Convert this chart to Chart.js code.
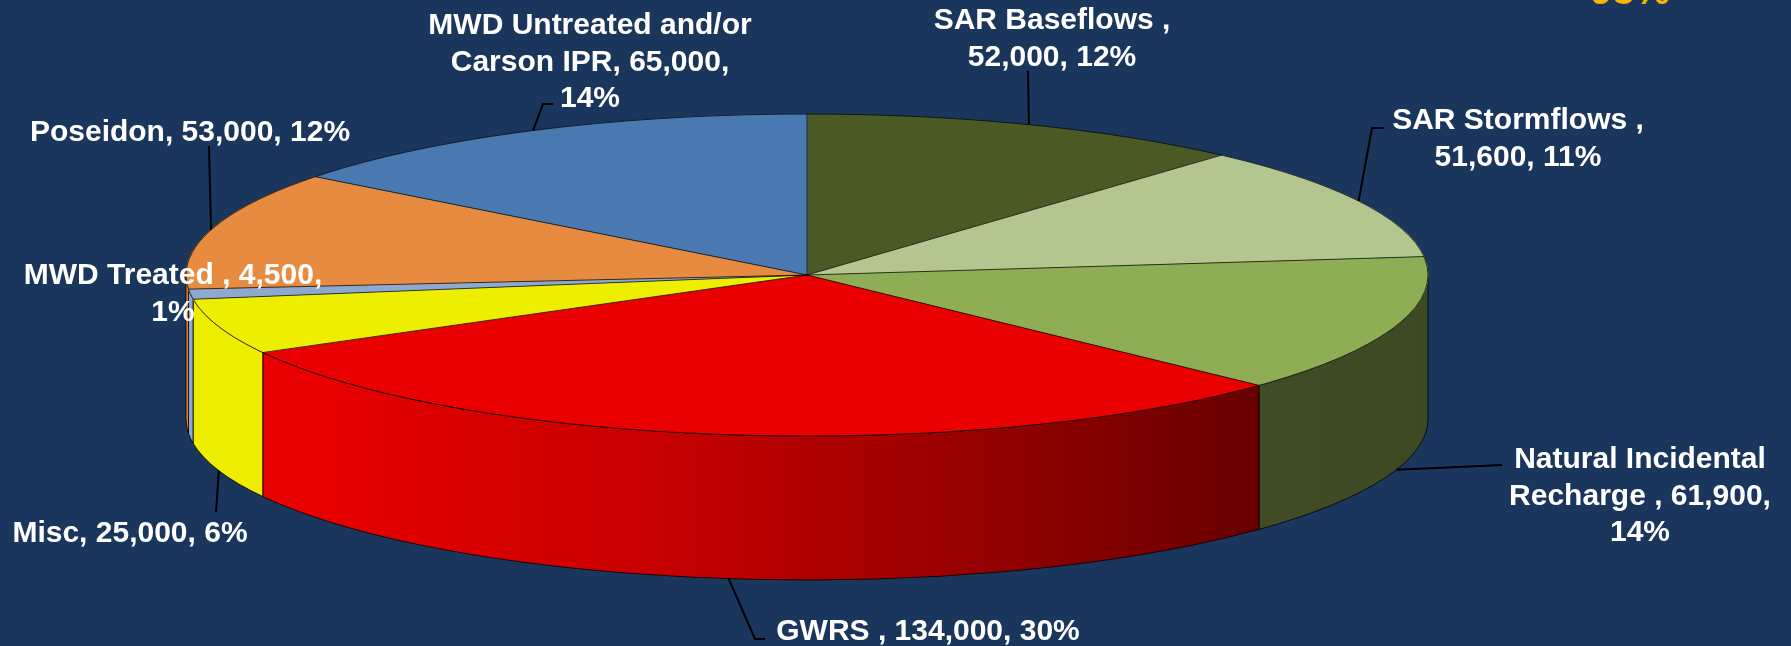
<!DOCTYPE html>
<html>
<head>
    <script src="https://cdn.jsdelivr.net/npm/chart.js@4.4.0/dist/chart.umd.min.js"></script>
    <style>
        body { margin: 0; background: #1A365D; }
        #wrap { width: 1791px; height: 646px; position: relative; }
    </style>
</head>
<body>
    <div id="wrap"><canvas id="grafico"></canvas></div>

    <script>
        // data, clockwise from 12 o'clock
        const categories = ['SAR Baseflows ', 'SAR Stormflows ', 'Natural Incidental Recharge ', 'GWRS ', 'Misc', 'MWD Treated ', 'Poseidon', 'MWD Untreated and/or Carson IPR'];
        const values = [52000, 51600, 61900, 134000, 25000, 4500, 53000, 65000];
        const percents = [12, 11, 14, 30, 6, 1, 12, 14];
        const colors = ['#4B5A25', '#B4C68F', '#8FAD54', '#EA0000', '#EEEE00', '#8EA9CF', '#E68B40', '#4A78B0'];
        const cornerText = '98%';

        // geometry of the tilted pie (top face ellipse + wall depth)
        const CX = 807, CY = 275, RX = 621, RY = 161, DEPTH = 144;
        const BG = '#1A365D';
        const FONT = 'bold 30px "Liberation Sans", Arial, sans-serif';
        const LINE_H = 36.5;

        // where each label sits (centre x, first line cap middle), wrap width, leader bends
        const labelPos = [
            {x: 1052, y: 18,  w: 260, leader: [[1028, 71]]},
            {x: 1518, y: 118, w: 280, leader: [[1372, 128], [1384, 128]]},
            {x: 1640, y: 457, w: 285, leader: [[1502, 465]]},
            {x: 928,  y: 629, w: 420, leader: [[755, 639], [765, 639]]},
            {x: 130,  y: 531, w: 320, leader: [[216, 512]]},
            {x: 173,  y: 273, w: 320, leader: null},
            {x: 190,  y: 130, w: 420, leader: [[209, 146]]},
            {x: 590,  y: 23,  w: 345, leader: [[543, 104], [553, 104]]}
        ];

        // wall gets darker from left to right
        const shadeStops = [[0, 1], [0.1, 0.99], [0.37, 0.86], [0.58, 0.69], [0.87, 0.44], [1, 0.42]];

        function shade(hex, f) {
            const n = parseInt(hex.slice(1), 16);
            const r = Math.round(((n >> 16) & 255) * f);
            const g = Math.round(((n >> 8) & 255) * f);
            const b = Math.round((n & 255) * f);
            return `rgb(${r},${g},${b})`;
        }

        function fmt(v) {
            return String(v).replace(/\B(?=(\d{3})+(?!\d))/g, ',');
        }

        function wrap(ctx, text, maxW) {
            const words = text.split(' ');
            const lines = [];
            let line = '';
            words.forEach(w => {
                const test = line ? line + ' ' + w : w;
                if (line && ctx.measureText(test).width > maxW) {
                    lines.push(line);
                    line = w;
                } else {
                    line = test;
                }
            });
            lines.push(line);
            return lines;
        }

        function edgePoint(a, down) {
            return [CX + RX * Math.cos(a), CY + RY * Math.sin(a) + (down ? DEPTH : 0)];
        }

        const pie3d = {
            id: 'pie3d',
            beforeDraw(chart) {
                const ctx = chart.ctx;
                ctx.save();
                ctx.fillStyle = BG;
                ctx.fillRect(0, 0, chart.width, chart.height);
                ctx.restore();
            },
            beforeDatasetsDraw(chart) {
                const ctx = chart.ctx;
                const arcs = chart.getDatasetMeta(0).data;

                // front walls, only the part of each slice facing us
                arcs.forEach((a, i) => {
                    const s = Math.max(a.startAngle, 0);
                    const e = Math.min(a.endAngle, Math.PI);
                    if (e <= s) return;
                    const g = ctx.createLinearGradient(CX - RX, 0, CX + RX, 0);
                    shadeStops.forEach(st => g.addColorStop(st[0], shade(colors[i], st[1])));
                    ctx.beginPath();
                    ctx.ellipse(CX, CY, RX, RY, 0, s, e);
                    ctx.ellipse(CX, CY + DEPTH, RX, RY, 0, e, s, true);
                    ctx.closePath();
                    ctx.fillStyle = g;
                    ctx.fill();
                    ctx.strokeStyle = 'rgba(0,0,0,0.8)';
                    ctx.lineWidth = 1;
                    ctx.stroke();
                });

                // squash the round pie into the top ellipse
                const a0 = arcs[0];
                ctx.save();
                ctx.translate(CX, CY);
                ctx.scale(RX / a0.outerRadius, RY / a0.outerRadius);
                ctx.translate(-a0.x, -a0.y);
            },
            afterDatasetsDraw(chart) {
                const ctx = chart.ctx;
                ctx.restore();
                const arcs = chart.getDatasetMeta(0).data;

                ctx.save();
                ctx.strokeStyle = 'rgba(0,0,0,0.7)';
                ctx.lineWidth = 1;
                ctx.beginPath();
                ctx.ellipse(CX, CY, RX, RY, 0, 0, Math.PI * 2);
                arcs.forEach(a => {
                    const p = edgePoint(a.startAngle, false);
                    ctx.moveTo(CX, CY);
                    ctx.lineTo(p[0], p[1]);
                });
                ctx.stroke();
                ctx.restore();
            },
            afterDraw(chart) {
                const ctx = chart.ctx;
                const arcs = chart.getDatasetMeta(0).data;
                ctx.save();
                ctx.font = FONT;

                arcs.forEach((a, i) => {
                    const pos = labelPos[i];
                    const mid = (a.startAngle + a.endAngle) / 2;
                    if (pos.leader) {
                        const p = edgePoint(mid, Math.sin(mid) > 0);
                        ctx.beginPath();
                        ctx.moveTo(p[0], p[1]);
                        pos.leader.forEach(q => ctx.lineTo(q[0], q[1]));
                        ctx.strokeStyle = '#000';
                        ctx.lineWidth = 2;
                        ctx.stroke();
                    }
                    const text = categories[i] + ', ' + fmt(values[i]) + ', ' + percents[i] + '%';
                    const lines = wrap(ctx, text, pos.w);
                    ctx.fillStyle = '#FFFFFF';
                    ctx.textAlign = 'center';
                    ctx.textBaseline = 'alphabetic';
                    lines.forEach((l, k) => ctx.fillText(l, pos.x, pos.y + 11 + k * LINE_H));
                });

                ctx.font = 'bold 40px "Liberation Sans", Arial, sans-serif';
                ctx.fillStyle = '#F7B500';
                ctx.textAlign = 'left';
                ctx.fillText(cornerText, 1590, 4);
                ctx.restore();
            }
        };

        const chart = new Chart(document.getElementById('grafico').getContext('2d'), {
            type: 'pie',
            data: {
                labels: categories,
                datasets: [{
                    data: values,
                    backgroundColor: colors,
                    borderColor: colors,
                    borderWidth: 0.5,
                    clip: false
                }]
            },
            options: {
                responsive: true,
                maintainAspectRatio: false,
                animation: false,
                events: [],
                layout: { padding: 20 },
                plugins: {
                    legend: { display: false },
                    tooltip: { enabled: false }
                }
            },
            plugins: [pie3d]
        });
    </script>
</body>
</html>
